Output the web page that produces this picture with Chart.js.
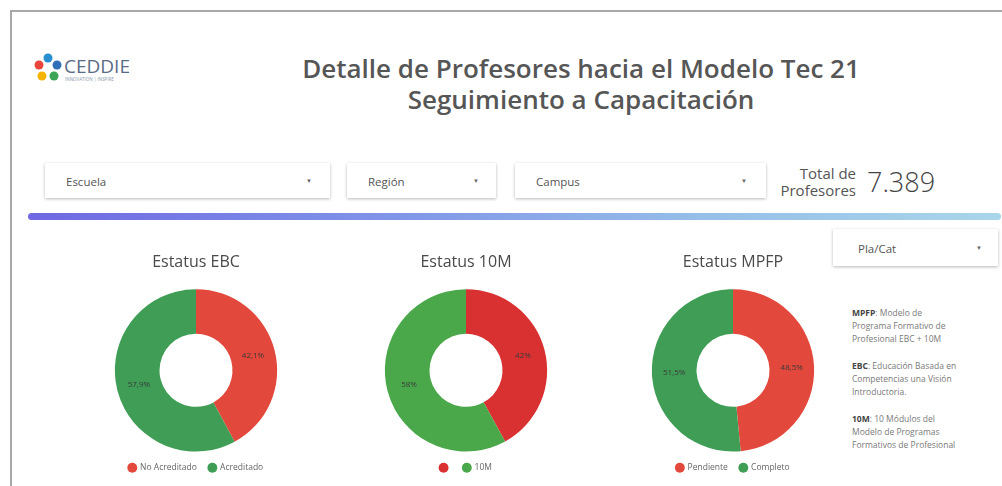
<!DOCTYPE html>
<html lang="es">
<head>
<meta charset="utf-8">
<title>Detalle de Profesores hacia el Modelo Tec 21</title>
<script src="https://cdn.jsdelivr.net/npm/chart.js@4.4.0/dist/chart.umd.min.js"></script>
<style>
  html, body { margin: 0; padding: 0; background: #fff; }
  body { width: 1002px; height: 486px; position: relative; overflow: hidden;
         font-family: "Open Sans", "Noto Sans", sans-serif; color: #555; }
  .frame { position: absolute; left: 10px; top: 10px; right: -10px; bottom: -10px;
           border: 2px solid #a8a8a8; }
  .abs { position: absolute; }
  .title { left: 240px; width: 682px; top: 53px; text-align: center; font-size: 26px;
           font-weight: 600; line-height: 31px; color: #565656; }
  .drop { background: #fff; box-shadow: 0 1px 3px rgba(0,0,0,0.28); font-size: 11.5px;
          font-weight: 400; color: #555; }
  .drop span { position: absolute; top: 50%; transform: translateY(-50%); font-weight: 400; }
  .drop .arrow { font-size: 6px; color: #666; }
  .bar { left: 28px; top: 213px; width: 973px; height: 7px; border-radius: 4px;
         background: linear-gradient(90deg, #6f68e2 0%, #7f92e8 35%, #96bfe8 70%, #a9d6ea 100%); }
  .note { left: 852px; width: 140px; font-size: 8.5px; line-height: 13px; color: #7a7a7a; }
  .note b { color: #444; }
  canvas { position: absolute; }
</style>
</head>
<body>
<div class="frame"></div>

<!-- logo -->
<svg class="abs" style="left:34px;top:52px" width="120" height="34" viewBox="0 0 120 34">
  <circle cx="14" cy="6" r="4.5" fill="#2a8fd0"/>
  <circle cx="5" cy="13" r="4.5" fill="#e8453c"/>
  <circle cx="23" cy="13" r="4.5" fill="#2f6fb8"/>
  <circle cx="8" cy="24" r="4.5" fill="#f4b400"/>
  <circle cx="20" cy="24" r="4.5" fill="#3aa655"/>
  <circle cx="14" cy="16" r="4.5" fill="#fff"/>
  <text x="30" y="21" font-family="Open Sans, sans-serif" font-size="19" fill="#5a6b86">CEDDIE</text>
  <text x="31" y="29" font-family="Open Sans, sans-serif" font-size="4.5" fill="#8a97aa">INNOVATION | INSPIRE</text>
</svg>

<div class="abs title">Detalle de Profesores hacia el Modelo Tec 21<br>Seguimiento a Capacitación</div>

<div class="abs drop" style="left:45px;top:163px;width:285px;height:35px"><span style="left:21px">Escuela</span><span class="arrow" style="left:261px">&#9660;</span></div>
<div class="abs drop" style="left:347px;top:163px;width:149px;height:35px"><span style="left:21px">Región</span><span class="arrow" style="left:126px">&#9660;</span></div>
<div class="abs drop" style="left:515px;top:163px;width:251px;height:35px"><span style="left:21px">Campus</span><span class="arrow" style="left:226px">&#9660;</span></div>

<div class="abs" style="left:760px;width:96px;top:165px;text-align:right;font-size:15px;line-height:17px;color:#555">Total de<br>Profesores</div>
<div class="abs" style="left:867px;top:163px;font-size:27px;font-weight:300;color:#444">7.389</div>

<div class="abs bar"></div>

<div class="abs drop" style="left:833px;top:229px;width:165px;height:37px"><span style="left:25px">Pla/Cat</span><span class="arrow" style="left:143px">&#9660;</span></div>

<div class="abs note" style="top:306px"><b>MPFP</b>: Modelo de<br>Programa Formativo de<br>Profesional EBC + 10M</div>
<div class="abs note" style="top:359px"><b>EBC</b>: Educación Basada en<br>Competencias una Visión<br>Introductoria.</div>
<div class="abs note" style="top:412px"><b>10M</b>: 10 Módulos del<br>Modelo de Programas<br>Formativos de Profesional</div>

<canvas id="ebc" style="left:96px;top:245px" width="200" height="237"></canvas>
<canvas id="diez" style="left:366px;top:245px" width="200" height="237"></canvas>
<canvas id="mpfp" style="left:633px;top:245px" width="200" height="237"></canvas>

<script>
const ebcLabels = ['No Acreditado', 'Acreditado'];
const ebcValues = [42.1, 57.9];
const diezLabels = ['', '10M'];
const diezValues = [42, 58];
const mpfpLabels = ['Pendiente', 'Completo'];
const mpfpValues = [48.5, 51.5];

const RED = '#e2483b';
const GREEN = '#3f9d56';

// porcentaje dentro del anillo, con coma decimal
const SliceLabelsPlugin = {
  id: 'sliceLabels',
  afterDatasetsDraw(chart) {
    const { ctx } = chart;
    const meta = chart.getDatasetMeta(0);
    const values = chart.data.datasets[0].data;
    ctx.save();
    ctx.font = '8px "Open Sans", sans-serif';
    ctx.fillStyle = '#3a3a3a';
    ctx.textAlign = 'center';
    ctx.textBaseline = 'middle';
    meta.data.forEach((arc, i) => {
      const p = arc.tooltipPosition();
      const v = values[i];
      const txt = (Number.isInteger(v) ? String(v) : v.toFixed(1).replace('.', ',')) + '%';
      ctx.fillText(txt, p.x, p.y);
    });
    ctx.restore();
  }
};
Chart.register(SliceLabelsPlugin);

function donut(id, title, labels, values, colors) {
  return new Chart(document.getElementById(id), {
    type: 'doughnut',
    data: {
      labels,
      datasets: [{ data: values, backgroundColor: colors, borderWidth: 0 }]
    },
    options: {
      responsive: false,
      animation: false,
      cutout: '45%',
      plugins: {
        tooltip: { enabled: false },
        title: {
          display: true,
          text: title,
          color: '#4a4a4a',
          font: { family: '"Open Sans", sans-serif', size: 16, weight: 'normal' },
          padding: { top: 8, bottom: 17 }
        },
        legend: {
          position: 'bottom',
          labels: {
            usePointStyle: true,
            pointStyle: 'circle',
            boxWidth: 7,
            boxHeight: 7,
            padding: 12,
            color: '#666',
            font: { family: '"Open Sans", sans-serif', size: 8.5 }
          }
        }
      }
    }
  });
}

donut('ebc', 'Estatus EBC', ebcLabels, ebcValues, [RED, GREEN]);
donut('diez', 'Estatus 10M', diezLabels, diezValues, ['#d93131', '#4aa84b']);
donut('mpfp', 'Estatus MPFP', mpfpLabels, mpfpValues, [RED, GREEN]);
</script>
</body>
</html>
